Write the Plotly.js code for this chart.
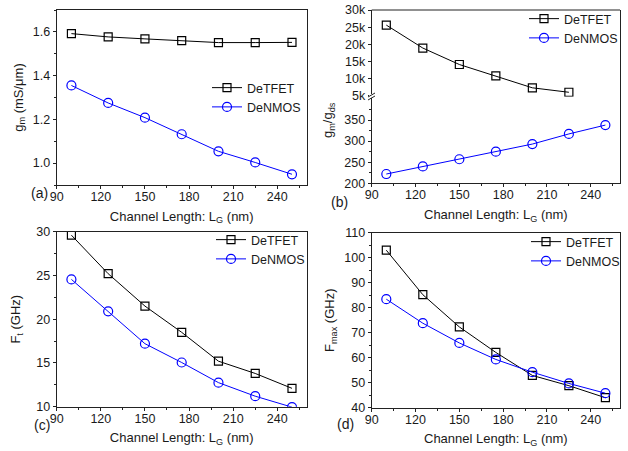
<!DOCTYPE html>
<html>
<head>
<meta charset="utf-8">
<script src="https://cdn.plot.ly/plotly-3.0.1.min.js"></script>
<style>html,body{margin:0;padding:0;background:#fff;}#chart{width:628px;height:451px;}</style>
</head>
<body>
<div id="chart"></div>
<script>
// ---- data ----
const LG = [100, 125, 150, 175, 200, 225, 250];
const LG_TFET_b = [100, 125, 150, 175, 200, 225];
const gmTFET = [1.592, 1.577, 1.568, 1.560, 1.551, 1.551, 1.552];
const gmNMOS = [1.355, 1.275, 1.208, 1.132, 1.054, 1.003, 0.949];
const gainTFET = [25600, 18900, 14100, 10800, 7300, 6000];
const gainNMOS = [222, 240, 257, 275, 293, 317, 338];
const ftTFET = [29.6, 25.2, 21.5, 18.5, 15.2, 13.8, 12.1];
const ftNMOS = [24.55, 20.9, 17.2, 15.05, 12.75, 11.2, 9.95];
const fmaxTFET = [103.0, 85.2, 72.3, 62.1, 52.9, 48.8, 44.0];
const fmaxNMOS = [83.4, 73.8, 65.9, 59.3, 54.2, 49.7, 45.8];
const gainLowTicks = [200, 250, 300, 350];
const seriesNames = ['DeTFET', 'DeNMOS'];
const panelLabels = ['(a)', '(b)', '(c)', '(d)'];
const xTitle = 'Channel Length: L<sub>G</sub> (nm)';

const W = 628, H = 451;
const px = v => v / W;
const py = v => 1 - v / H;

const black = '#000000', blue = '#0000ff';
const FONT = 'Liberation Sans, Arial, sans-serif';

function tfet(x, y, xa, ya, lg) {
  return {x: x, y: y, xaxis: xa, yaxis: ya, legend: lg, name: seriesNames[0], type: 'scatter', mode: 'lines+markers',
    line: {color: black, width: 1}, marker: {symbol: 'square-open', size: 8, color: black, line: {width: 1.2}}};
}
function nmos(x, y, xa, ya, lg) {
  return {x: x, y: y, xaxis: xa, yaxis: ya, legend: lg, name: seriesNames[1], type: 'scatter', mode: 'lines+markers',
    line: {color: blue, width: 1}, marker: {symbol: 'circle-open', size: 9, color: blue, line: {width: 1.2}}};
}

const traces = [
  tfet(LG, gmTFET, 'x', 'y', 'legend'),
  nmos(LG, gmNMOS, 'x', 'y', 'legend'),
  tfet(LG_TFET_b, gainTFET, 'x2', 'y3', 'legend2'),
  nmos(LG, gainNMOS, 'x2', 'y2', 'legend2'),
  tfet(LG, ftTFET, 'x3', 'y4', 'legend3'),
  nmos(LG, ftNMOS, 'x3', 'y4', 'legend3'),
  tfet(LG, fmaxTFET, 'x4', 'y5', 'legend4'),
  nmos(LG, fmaxNMOS, 'x4', 'y5', 'legend4')
];

const tickfont = {family: FONT, size: 12.5, color: '#1a1a1a'};
const titlefont = {family: FONT, size: 13, color: '#1a1a1a'};
const lineC = '#222222';

function xax(dom, anchor, mirror) {
  return {domain: dom, anchor: anchor, range: [90, 260], tick0: 90, dtick: 30,
    ticks: 'outside', ticklen: 3, tickwidth: 1, tickcolor: lineC, ticklabelstandoff: -3,
    minor: {ticks: 'outside', ticklen: 2, dtick: 15, tick0: 90, tickcolor: lineC, showgrid: false},
    showline: true, linecolor: lineC, linewidth: 1, mirror: mirror,
    showgrid: false, zeroline: false, tickfont: tickfont,
    title: {text: xTitle, font: titlefont, standoff: 8}};
}
function yax(dom, anchor, range, tick0, dtick, mdtick, title, fmt, standoff) {
  const a = {domain: dom, anchor: anchor, range: range, tick0: tick0, dtick: dtick,
    ticks: 'outside', ticklen: 3, tickwidth: 1, tickcolor: lineC,
    minor: {ticks: 'outside', ticklen: 2, dtick: mdtick, tick0: tick0, tickcolor: lineC, showgrid: false},
    showline: true, linecolor: lineC, linewidth: 1, mirror: true,
    showgrid: false, zeroline: false, tickfont: tickfont};
  if (title) a.title = {text: title, font: titlefont, standoff: standoff || 6};
  if (fmt) a.tickformat = fmt;
  return a;
}

const xA = [px(56.7), px(306.7)];
const xB = [px(371.7), px(620)];
const yA = [py(185), py(10)];
const yBlow = [py(183.3), py(96.8)];
const yBup = [py(96.8), py(10)];
const yC = [py(406.7), py(231.7)];
const yD = [py(407.7), py(232.7)];

function legendAt(x, y) {
  return {x: x, y: y, xanchor: 'left', yanchor: 'top', bgcolor: 'rgba(0,0,0,0)', borderwidth: 0,
    font: {family: FONT, size: 12.5, color: '#1a1a1a'}, itemwidth: 30, tracegroupgap: 0};
}

const yLow = yax(yBlow, 'x2', [200, 405], 200, 50, 25, null);
yLow.tickmode = 'array';
yLow.tickvals = gainLowTicks;
yLow.minor = {ticks: 'outside', ticklen: 2, tickmode: 'array', tickvals: [225, 275, 325, 375], tickcolor: lineC, showgrid: false};

const yUp = yax(yBup, 'x2', [4680, 30000], 0, 5000, 2500, null, '~s');
yUp.minor = {ticks: ''};

const layout = {
  width: W, height: H, margin: {l: 0, r: 0, t: 0, b: 0},
  paper_bgcolor: '#ffffff', plot_bgcolor: '#ffffff',
  font: {family: FONT, size: 12, color: '#1a1a1a'},
  xaxis: xax(xA, 'y', true),
  yaxis: yax(yA, 'x', [0.9, 1.7], 1.0, 0.2, 0.1, 'g<sub>m</sub> (mS/\u03bcm)', '.1f', 6),
  xaxis2: xax(xB, 'y2', false),
  yaxis2: yLow,
  yaxis3: yUp,
  xaxis3: xax(xA, 'y4', true),
  yaxis4: yax(yC, 'x3', [10, 30], 10, 5, 2.5, 'F<sub>t</sub> (GHz)', null, 12),
  xaxis4: xax(xB, 'y5', true),
  yaxis5: yax(yD, 'x4', [40, 110], 40, 10, 5, 'F<sub>max</sub> (GHz)', null, 6),
  legend: legendAt(px(207), py(73)),
  legend2: legendAt(px(524), py(4)),
  legend3: legendAt(px(211), py(225)),
  legend4: legendAt(px(526), py(227)),
  showlegend: true,
  shapes: [
    // top frame line of panel (b)
    {type: 'line', xref: 'paper', yref: 'paper', x0: xB[0], x1: xB[1], y0: yBup[1], y1: yBup[1], line: {color: lineC, width: 1}},
    // axis break mark on panel (b)
    {type: 'rect', xref: 'paper', yref: 'paper', x0: px(369), x1: px(374.5), y0: py(98), y1: py(94), fillcolor: '#ffffff', line: {width: 0}},
    {type: 'line', xref: 'paper', yref: 'paper', x0: px(368), x1: px(375), y0: py(97), y1: py(93), line: {color: lineC, width: 1}},
    {type: 'line', xref: 'paper', yref: 'paper', x0: px(368), x1: px(375), y0: py(100), y1: py(96), line: {color: lineC, width: 1}}
  ],
  annotations: [
    {text: panelLabels[0], xref: 'paper', yref: 'paper', x: px(29), y: py(193), showarrow: false, font: {family: FONT, size: 14, color: '#1a1a1a'}},
    {text: panelLabels[1], xref: 'paper', yref: 'paper', x: px(339), y: py(202), showarrow: false, font: {family: FONT, size: 14, color: '#1a1a1a'}},
    {text: panelLabels[2], xref: 'paper', yref: 'paper', x: px(32), y: py(435), showarrow: false, font: {family: FONT, size: 14, color: '#1a1a1a'}},
    {text: panelLabels[3], xref: 'paper', yref: 'paper', x: px(345), y: py(434), showarrow: false, font: {family: FONT, size: 14, color: '#1a1a1a'}},
    {text: 'g<sub>m</sub>/g<sub>ds</sub>', xref: 'paper', yref: 'paper', x: px(329), y: py(100), textangle: -90, showarrow: false, font: titlefont}
  ]
};

Plotly.newPlot('chart', traces, layout, {staticPlot: true, displayModeBar: false});
</script>
</body>
</html>
